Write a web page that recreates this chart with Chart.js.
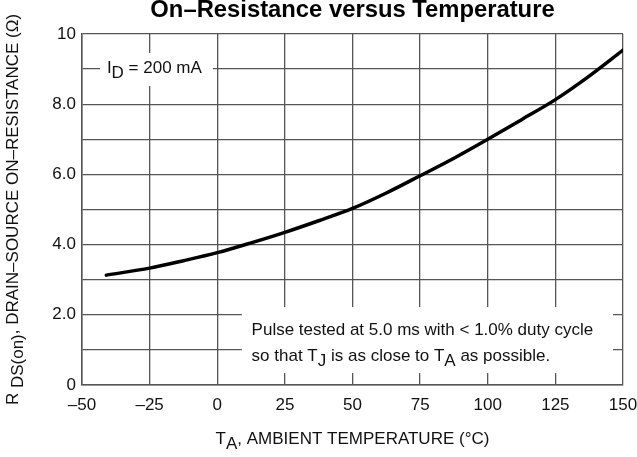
<!DOCTYPE html>
<html>
<head>
<meta charset="utf-8">
<script src="https://cdn.jsdelivr.net/npm/chart.js@4.4.1/dist/chart.umd.min.js"></script>
<style>
  html, body { margin: 0; padding: 0; background: #fff; }
  #wrap { width: 637px; height: 457px; }
</style>
</head>
<body>
<div id="wrap"><canvas id="rdsChart" width="637" height="457"></canvas></div>
<script>
// Data
const temps = [-41, -25, -12.5, 0, 12.5, 25, 37.5, 50, 62.5, 75, 87.5, 100, 112.5, 125, 137.5, 150];
const rdsOn = [3.13, 3.33, 3.54, 3.77, 4.05, 4.35, 4.68, 5.03, 5.47, 5.96, 6.46, 7.0, 7.56, 8.13, 8.8, 9.54];

// Tick labels
const xTickValues = [-50, -25, 0, 25, 50, 75, 100, 125, 150];
const xTickLabels = ['\u201350', '\u201325', '0', '25', '50', '75', '100', '125', '150'];
const yTickValues = [0, 2, 4, 6, 8, 10];
const yTickLabels = ['0', '2.0', '4.0', '6.0', '8.0', '10'];

const FONT = "'Liberation Sans', Arial, Helvetica, sans-serif";
const GRID = '#555';

// draw text with lowered (subscript) pieces; parts = [[text, isSub], ...]
function drawRich(ctx, parts, x, y, align) {
    let total = 0;
    parts.forEach(p => { total += ctx.measureText(p[0]).width; });
    let cx = align === 'center' ? x - total / 2 : x;
    parts.forEach(p => {
        ctx.fillText(p[0], cx, y + (p[1] ? 5 : 0));
        cx += ctx.measureText(p[0]).width;
    });
}

const overlay = {
    id: 'overlay',
    beforeDatasetsDraw(chart) {
        const { ctx, scales: { x, y } } = chart;
        ctx.save();
        // white boxes behind the notes
        ctx.fillStyle = '#fff';
        const box = (x0, x1, y0, y1) => {
            const px0 = x.getPixelForValue(x0), px1 = x.getPixelForValue(x1);
            const py0 = y.getPixelForValue(y1), py1 = y.getPixelForValue(y0);
            ctx.fillRect(px0, py0, px1 - px0, py1 - py0);
        };
        box(-43.3, -1.6, 8.52, 9.46);
        box(9.1, 146.3, 0.34, 2.22);

        ctx.fillStyle = '#111';
        ctx.textAlign = 'left';
        ctx.textBaseline = 'alphabetic';
        ctx.font = '17px ' + FONT;
        drawRich(ctx, [['I', false], ['D', true], [' = 200 mA', false]],
            x.getPixelForValue(-40.8), y.getPixelForValue(8.9), 'left');
        const nx = x.getPixelForValue(12.7);
        drawRich(ctx, [['Pulse tested at 5.0 ms with < 1.0% duty cycle', false]],
            nx, y.getPixelForValue(1.42), 'left');
        drawRich(ctx, [['so that T', false], ['J', true], [' is as close to T', false], ['A', true], [' as possible.', false]],
            nx, y.getPixelForValue(0.68), 'left');
        ctx.restore();
    },
    afterDraw(chart) {
        const { ctx, chartArea } = chart;
        const midX = (chartArea.left + chartArea.right) / 2;
        const midY = (chartArea.top + chartArea.bottom) / 2;
        ctx.save();
        ctx.fillStyle = '#000';
        ctx.textAlign = 'left';
        ctx.textBaseline = 'alphabetic';

        // title
        ctx.font = 'bold 23.8px ' + FONT;
        drawRich(ctx, [['On\u2013Resistance versus Temperature', false]], midX, 17, 'center');

        // x axis title
        ctx.fillStyle = '#111';
        ctx.font = '17px ' + FONT;
        drawRich(ctx, [['T', false], ['A', true], [', AMBIENT TEMPERATURE (\u00B0C)', false]], midX, 444, 'center');

        // y axis title (rotated)
        ctx.translate(18, midY);
        ctx.rotate(-Math.PI / 2);
        drawRich(ctx, [['R ', false], ['DS(on)', true], [', DRAIN\u2013SOURCE ON\u2013RESISTANCE (\u03A9)', false]], 0, 0, 'center');
        ctx.restore();
    }
};

new Chart(document.getElementById('rdsChart').getContext('2d'), {
    type: 'line',
    data: {
        datasets: [{
            label: 'RDS(on)',
            data: temps.map((t, i) => ({ x: t, y: rdsOn[i] })),
            borderColor: '#000',
            borderWidth: 3.5,
            borderCapStyle: 'round',
            pointRadius: 0,
            fill: false,
            cubicInterpolationMode: 'monotone'
        }]
    },
    options: {
        responsive: false,
        animation: false,
        layout: { padding: { top: 34, right: 14, left: 0, bottom: 0 } },
        plugins: {
            legend: { display: false },
            tooltip: { enabled: false }
        },
        scales: {
            x: {
                type: 'linear',
                min: -50,
                max: 150,
                afterFit(s) { s.height = 72; s.paddingLeft = 0; s.paddingRight = 0; },
                afterBuildTicks(s) { s.ticks = xTickValues.map(v => ({ value: v })); },
                ticks: {
                    autoSkip: false,
                    maxRotation: 0,
                    padding: 10,
                    color: '#111',
                    font: { family: FONT, size: 17 },
                    callback: (v) => xTickLabels[xTickValues.indexOf(v)]
                },
                grid: { color: GRID, lineWidth: 1.3, drawTicks: false },
                border: { color: GRID, width: 1.5 }
            },
            y: {
                min: 0,
                max: 10,
                afterFit(s) { s.width = 82; s.paddingTop = 0; s.paddingBottom = 0; },
                ticks: {
                    stepSize: 1,
                    autoSkip: false,
                    padding: 6,
                    color: '#111',
                    font: { family: FONT, size: 17 },
                    callback: (v) => {
                        const i = yTickValues.indexOf(v);
                        return i >= 0 ? yTickLabels[i] : '';
                    }
                },
                grid: { color: GRID, lineWidth: 1.3, drawTicks: false },
                border: { color: GRID, width: 1.5 }
            }
        }
    },
    plugins: [overlay]
});
</script>
</body>
</html>
